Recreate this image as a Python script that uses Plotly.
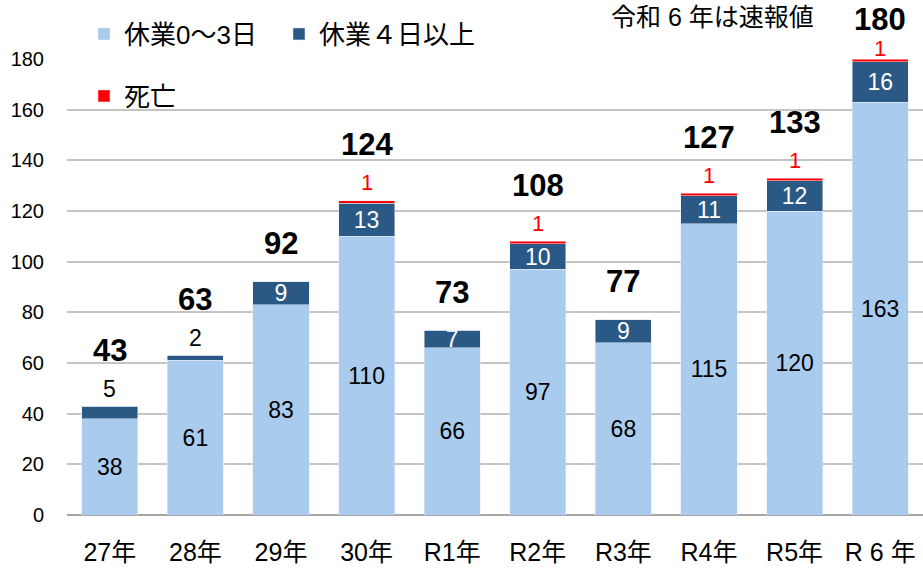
import plotly.graph_objects as go

categories = ["27年", "28年", "29年", "30年", "R1年", "R2年", "R3年", "R4年", "R5年", "R 6 年"]
rest_0_3 = [38, 61, 83, 110, 66, 97, 68, 115, 120, 163]
rest_4_plus = [5, 2, 9, 13, 7, 10, 9, 11, 12, 16]
deaths = [0, 0, 0, 1, 0, 1, 0, 1, 1, 1]
totals = [a + b + c for a, b, c in zip(rest_0_3, rest_4_plus, deaths)]

FONT = "Liberation Sans, Arial, Noto Sans CJK JP, sans-serif"
LIGHT = "#a9cbee"
DARK = "#2b5986"
RED = "#ff0000"

W, H = 923, 570
ML, MR, MT, MB = 67, 0, 59, 55
YMAX = 180
PX_PER_UNIT = (H - MT - MB) / YMAX

fig = go.Figure()
fig.add_trace(go.Bar(
    x=categories, y=rest_0_3, name="休業0～3日", marker_color=LIGHT,
    text=[str(v) for v in rest_0_3], textposition="inside",
    insidetextanchor="middle", textangle=0, constraintext="none",
    textfont=dict(size=23, color="black", family=FONT),
    legend="legend", hoverinfo="x+y",
))
fig.add_trace(go.Bar(
    x=categories, y=rest_4_plus, name="休業４日以上", marker_color=DARK,
    text=[str(v) if v >= 6 else "" for v in rest_4_plus], textposition="inside",
    insidetextanchor="middle", textangle=0, constraintext="none",
    textfont=dict(size=23, color="white", family=FONT),
    legend="legend", hoverinfo="x+y",
))
fig.add_trace(go.Bar(
    x=categories, y=deaths, name="死亡", marker_color=RED,
    legend="legend2", hoverinfo="x+y",
))

annotations = []
for cat, a, b, c, t in zip(categories, rest_0_3, rest_4_plus, deaths, totals):
    has_above = c > 0 or b < 6
    offset = 56 if has_above else 38
    top_px = MT + (YMAX - t) * PX_PER_UNIT
    capped = offset > top_px - 19
    offset = min(offset, top_px - 19)
    if c > 0:
        annotations.append(dict(x=cat, y=t, xref="x", yref="y", text=str(c),
                                showarrow=False, yanchor="middle", borderpad=0,
                                yshift=11 if capped else 18,
                                font=dict(size=22, color=RED, family=FONT)))
    elif b < 6:
        annotations.append(dict(x=cat, y=t, xref="x", yref="y", text=str(b),
                                showarrow=False, yanchor="middle", yshift=17,
                                borderpad=0,
                                font=dict(size=23, color="black", family=FONT)))
    annotations.append(dict(x=cat, y=t, xref="x", yref="y", text=f"<b>{t}</b>",
                            showarrow=False, yanchor="middle", yshift=offset,
                            borderpad=0,
                            font=dict(size=31, color="black", family=FONT)))

annotations.append(dict(x=(712 - ML) / (W - ML - MR), y=1 + (MT - 17) / (H - MT - MB),
                        xref="paper", yref="paper", text="令和 6 年は速報値",
                        showarrow=False, xanchor="center", yanchor="middle",
                        font=dict(size=25, color="black", family=FONT)))

fig.update_layout(
    width=W, height=H,
    margin=dict(l=ML, r=MR, t=MT, b=MB, autoexpand=False),
    barmode="stack", bargap=0.345,
    plot_bgcolor="white", paper_bgcolor="white",
    font=dict(family=FONT, color="black"),
    annotations=annotations,
    legend=dict(orientation="h", xref="container", yref="container",
                x=84 / W, xanchor="left",
                y=1 - 34 / H, yanchor="middle",
                bgcolor="rgba(0,0,0,0)", font=dict(size=26, family=FONT),
                entrywidth=150, traceorder="normal"),
    legend2=dict(orientation="h", xref="container", yref="container",
                 x=84 / W, xanchor="left",
                 y=1 - 96 / H, yanchor="middle",
                 bgcolor="rgba(0,0,0,0)", font=dict(size=26, family=FONT)),
    xaxis=dict(showgrid=False, showline=False, ticks="", automargin=False,
               tickfont=dict(size=25, family=FONT), ticklabelstandoff=20),
    yaxis=dict(range=[0, YMAX], dtick=20, showline=False, ticks="", automargin=False,
               gridcolor="#c4c4c4", gridwidth=2,
               zeroline=True, zerolinecolor="#a6a6a6", zerolinewidth=2,
               tickfont=dict(size=20, family=FONT), ticklabelstandoff=22),
)

fig.write_html(
    "out.html",
    config={"displayModeBar": False},
    post_script="document.body.style.margin='0';document.body.style.padding='0';"
                "document.body.style.overflow='hidden';",
)
